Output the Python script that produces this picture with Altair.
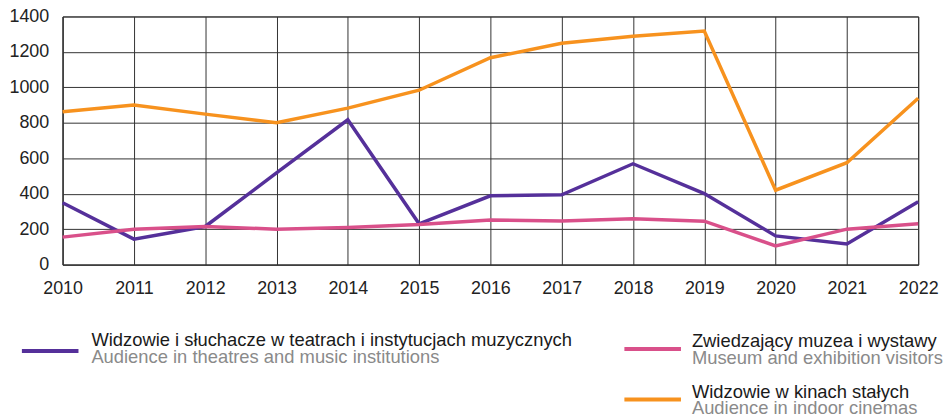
import altair as alt
import pandas as pd

years = list(range(2010, 2023))
theatres = [349, 144, 215, 517, 817, 230, 388, 394, 569, 401, 162, 116, 355]
museums = [155, 200, 215, 200, 209, 226, 252, 246, 259, 245, 106, 200, 230]
cinemas = [862, 901, 849, 801, 883, 984, 1167, 1249, 1288, 1318, 420, 575, 939]

names_pl = [
    "Widzowie i słuchacze w teatrach i instytucjach muzycznych",
    "Zwiedzający muzea i wystawy",
    "Widzowie w kinach stałych",
]
names_en = [
    "Audience in theatres and music institutions",
    "Museum and exhibition visitors",
    "Audience in indoor cinemas",
]
colors = ["#55309a", "#d9508a", "#f7921e"]

rows = []
for name, vals in zip(names_pl, [theatres, museums, cinemas]):
    for y, v in zip(years, vals):
        rows.append({"year": y, "value": v, "series": name})
df = pd.DataFrame(rows)

FONT = "Liberation Sans"

lines = alt.Chart(df).mark_line(strokeWidth=3.5).encode(
    x=alt.X("year:Q", scale=alt.Scale(domain=[2010, 2022], nice=False, zero=False),
            axis=alt.Axis(values=years, format="d", title=None, grid=True, ticks=False,
                          labelFontSize=18, labelPadding=15, labelFlush=False)),
    y=alt.Y("value:Q", scale=alt.Scale(domain=[0, 1400], nice=False),
            axis=alt.Axis(values=list(range(0, 1401, 200)), format="d", title=None, grid=True,
                          ticks=False, labelFontSize=18, labelPadding=14)),
    color=alt.Color("series:N", scale=alt.Scale(domain=names_pl, range=colors), legend=None),
    order=alt.Order("year:Q"),
)

one = alt.Data(values=[{"a": 1}])

# legend items: (line x1, x2, line y, text x, text baseline 1, text baseline 2)
leg_pos = [(-41, 16, 337, 29, 332, 349), (566, 623, 335, 634, 333, 350), (566, 623, 386, 634, 384, 400)]
legend_layers = []
for i, (x1, x2, ly, tx, b1, b2) in enumerate(leg_pos):
    legend_layers.append(
        alt.Chart(one).mark_rule(color=colors[i], strokeWidth=4).encode(
            x=alt.value(x1), x2=alt.value(x2), y=alt.value(ly))
    )
    legend_layers.append(
        alt.Chart(one).mark_text(text=names_pl[i], align="left", baseline="alphabetic",
                                 fontSize=18.5, font=FONT, color="#1a1a1a").encode(
            x=alt.value(tx), y=alt.value(b1))
    )
    legend_layers.append(
        alt.Chart(one).mark_text(text=names_en[i], align="left", baseline="alphabetic",
                                 fontSize=18.5, font=FONT, color="#8a8a8a").encode(
            x=alt.value(tx), y=alt.value(b2))
    )

chart = alt.layer(lines, *legend_layers).properties(
    width=862, height=250,
    padding={"left": 55, "top": 7, "right": 26, "bottom": 154},
    autosize=alt.AutoSizeParams(type="none"),
).configure_axis(
    labelFont=FONT, labelColor="#222222", gridColor="#333333", gridOpacity=1,
    domainColor="#333333", gridWidth=1,
).configure_view(stroke="#333333", strokeWidth=1)

chart.save("out.html", embed_options={"renderer": "svg", "actions": False})
